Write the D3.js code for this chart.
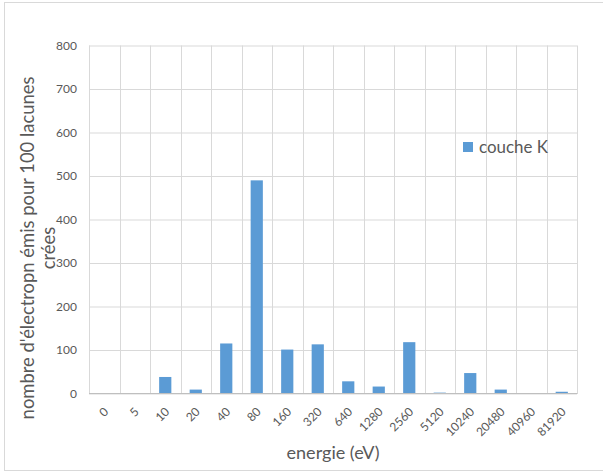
<!DOCTYPE html>
<html><head><meta charset="utf-8">
<script src="https://cdn.jsdelivr.net/npm/d3@7"></script>
<style>html,body{margin:0;padding:0;background:#fff;}svg{display:block;}</style>
</head><body>
<svg id="c" width="603" height="472"></svg>
<script>
const categories = ["0","5","10","20","40","80","160","320","640","1280","2560","5120","10240","20480","40960","81920"];
const coucheK = [0,0,38,9,115,490,101,113,28,16,118,2,47,9,0,4];
const yTicks = [0,100,200,300,400,500,600,700,800];
const seriesName = "couche K";
const yTitle = ["nombre d'électropn émis pour 100 lacunes", "crées"];
const xTitle = "energie (eV)";

const FONT = "Lato, 'Open Sans', sans-serif";
const TXT = "#595959";
const GRID = "#d9d9d9";
const BLUE = "#5B9BD5";

const svg = d3.select("#c");
// chart border
svg.append("rect").attr("x",4.5).attr("y",2.5).attr("width",640).attr("height",468)
  .attr("fill","#fff").attr("stroke",GRID).attr("stroke-width",1);

const L = 89, R = 577, T = 45, B = 393.5;
const x = d3.scaleBand().domain(categories).range([L,R]).paddingInner(0).paddingOuter(0);
const y = d3.scaleLinear().domain([0,800]).range([B,T+0.5]);

// horizontal grid + y labels
const ya = svg.append("g").attr("transform",`translate(${L},0)`)
  .call(d3.axisLeft(y).tickValues(yTicks).tickSize(-(R-L)).tickPadding(12));
ya.select(".domain").remove();
ya.selectAll(".tick line").attr("stroke",GRID);
ya.selectAll(".tick text").attr("fill",TXT).style("font-family",FONT).style("font-size","12px");

// vertical grid lines at band boundaries
const bounds = categories.map(c => x(c)).concat([R]);
svg.append("g").selectAll("line").data(bounds).join("line")
  .attr("x1",d=>Math.round(d)+0.5).attr("x2",d=>Math.round(d)+0.5)
  .attr("y1",T+0.5).attr("y2",B).attr("stroke",GRID);

// bars
const bw = x.bandwidth()*0.4;
svg.append("g").selectAll("rect").data(categories).join("rect")
  .attr("x",(c)=>x(c)+(x.bandwidth()-bw)/2)
  .attr("width",bw)
  .attr("y",(c,i)=>y(coucheK[i]))
  .attr("height",(c,i)=>B-y(coucheK[i]))
  .attr("fill",BLUE);

// bottom axis line
svg.append("line").attr("x1",L).attr("x2",R+0.5).attr("y1",B).attr("y2",B).attr("stroke","#bfbfbf");

// x labels
const xa = svg.append("g").attr("transform",`translate(0,${B})`)
  .call(d3.axisBottom(x).tickSize(0).tickPadding(0));
xa.select(".domain").remove();
xa.selectAll(".tick text")
  .attr("fill",TXT).style("font-family",FONT).style("font-size","12px")
  .attr("text-anchor","end")
  .attr("dy",null).attr("y",0)
  .attr("transform","translate(5,19) rotate(-45)");

function fit(sel, target){
  const w = sel.node().getComputedTextLength();
  const fs = parseFloat(sel.style("font-size"));
  sel.style("font-size",(fs*target/w)+"px");
}

// y title
const yt1 = svg.append("text").text(yTitle[0])
  .attr("transform","translate(34,248) rotate(-90)").attr("text-anchor","middle")
  .attr("fill",TXT).style("font-family",FONT).style("font-size","18px");
fit(yt1,343);
const yt2 = svg.append("text").text(yTitle[1])
  .attr("transform","translate(55,248) rotate(-90)").attr("text-anchor","middle")
  .attr("fill",TXT).style("font-family",FONT).style("font-size",yt1.style("font-size"));

// x title
const xt = svg.append("text").text(xTitle)
  .attr("x",333).attr("y",459).attr("text-anchor","middle")
  .attr("fill",TXT).style("font-family",FONT).style("font-size","18px");
fit(xt,93);

// legend
svg.append("rect").attr("x",463).attr("y",142).attr("width",10).attr("height",10).attr("fill",BLUE);
const lg = svg.append("text").text(seriesName).attr("x",479).attr("y",152.5)
  .attr("fill",TXT).style("font-family",FONT).style("font-size","18px");
fit(lg,69);
</script>
</body></html>
